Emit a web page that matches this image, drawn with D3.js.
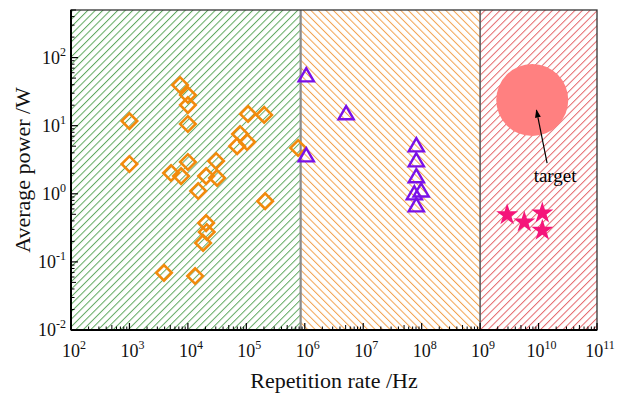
<!DOCTYPE html>
<html><head><meta charset="utf-8">
<script src="https://cdn.jsdelivr.net/npm/d3@7"></script>
<style>body{margin:0;background:#fff}svg{display:block}</style>
</head><body>
<svg id="c" width="619" height="394"></svg>
<script>
// ---- data ----
const xTickExps = [2,3,4,5,6,7,8,9,10,11];
const yTickExps = [-2,-1,0,1,2];
const regionBounds = [1e2, 8.5e5, 1e9, 1e11];
const regionNames = ["green","orange","red"];
const diamondX = [1e3,1e3,7350,1.0e4,1.0e4,1.0e4,5150,7650,1.0e4,2.05e4,3.04e4,3.16e4,1.5e4,1.07e5,2.02e5,6.96e4,7.8e4,1.03e5,7.7e5,2.1e5,2.05e4,2.1e4,1.82e4,3.9e3,1.33e4];
const diamondY = [11.7,2.74,39.6,28.2,20.1,10.6,2.02,1.82,2.93,1.82,3.03,1.71,1.10,14.9,14.4,5.0,7.55,5.76,4.7,0.78,0.372,0.275,0.19,0.069,0.062];
const triangleX = [1.06e6,5.1e6,1.06e6,8.1e7,8.1e7,8.1e7,9.8e7,7.5e7,8.1e7];
const triangleY = [51.9,14.4,3.47,4.87,2.93,1.71,1.06,0.96,0.64];
const starX = [2.9e9,5.7e9,1.16e10,1.16e10];
const starY = [0.49,0.385,0.52,0.29];
const targetX = [7.8e9];
const targetY = [23.8];
const arrowFrom = [1.4e10, 2.83];
const arrowTo = [9.2e9, 17];
const targetLabel = "target";

// ---- layout ----
const svg = d3.select("#c");
const L = 71, R = 597, T = 10, B = 330;
const x = d3.scaleLog().domain([1e2,1e11]).range([L,R]);
const y = d3.scaleLog().domain([0.01,500]).range([B,T]);
const serif = "'Liberation Serif','Times New Roman',serif";

const defs = svg.append("defs");
const hatch = {green:{c:"#5fa85f",r:45}, orange:{c:"#f2a24e",r:-45}, red:{c:"#e4676b",r:45}};
regionNames.forEach(n=>{
  const p = defs.append("pattern").attr("id","h-"+n).attr("patternUnits","userSpaceOnUse")
    .attr("width",5.3).attr("height",10).attr("patternTransform",`rotate(${hatch[n].r})`);
  p.append("line").attr("x1",0.5).attr("x2",0.5).attr("y1",0).attr("y2",10)
    .attr("stroke",hatch[n].c).attr("stroke-width",1);
});
defs.append("marker").attr("id","arr").attr("viewBox","0 0 10 10").attr("refX",9).attr("refY",5)
  .attr("markerWidth",7).attr("markerHeight",7).attr("orient","auto")
  .append("path").attr("d","M0,1.5 L10,5 L0,8.5 Z").attr("fill","#000");

// regions
svg.selectAll("rect.reg").data(regionNames).join("rect").attr("class","reg")
  .attr("x",(d,i)=>x(regionBounds[i])).attr("width",(d,i)=>x(regionBounds[i+1])-x(regionBounds[i]))
  .attr("y",T).attr("height",B-T).attr("fill",d=>`url(#h-${d})`);

// separators
svg.append("line").attr("x1",x(regionBounds[1])).attr("x2",x(regionBounds[1])).attr("y1",T).attr("y2",B)
  .attr("stroke","#8a8a8a").attr("stroke-width",2.2);
svg.append("line").attr("x1",x(regionBounds[2])).attr("x2",x(regionBounds[2])).attr("y1",T).attr("y2",B)
  .attr("stroke","#555").attr("stroke-width",1.5);

// frame
svg.append("rect").attr("x",L).attr("y",T).attr("width",R-L).attr("height",B-T)
  .attr("fill","none").attr("stroke","#333").attr("stroke-width",1.3);

// target
svg.selectAll("circle.t").data(targetX).join("circle").attr("class","t")
  .attr("cx",d=>x(d)).attr("cy",(d,i)=>y(targetY[i])).attr("r",36).attr("fill","#ff8080");

// arrow & label
svg.append("line").attr("x1",x(arrowFrom[0])).attr("y1",y(arrowFrom[1])).attr("x2",x(arrowTo[0])).attr("y2",y(arrowTo[1]))
  .attr("stroke","#000").attr("stroke-width",1.2).attr("marker-end","url(#arr)");
svg.append("text").attr("x",x(arrowFrom[0])+8).attr("y",y(arrowFrom[1])+19).attr("text-anchor","middle")
  .attr("font-family",serif).attr("font-size",19).text(targetLabel);

// diamonds
svg.selectAll("path.dm").data(diamondX).join("path").attr("class","dm")
  .attr("d",d3.symbol(d3.symbolSquare, 120)())
  .attr("transform",(d,i)=>`translate(${x(d)},${y(diamondY[i])}) rotate(45)`)
  .attr("fill","none").attr("stroke","#f28a0c").attr("stroke-width",2.6);

// triangles
svg.selectAll("path.tr").data(triangleX).join("path").attr("class","tr")
  .attr("d",d3.symbol(d3.symbolTriangle, 100)())
  .attr("transform",(d,i)=>`translate(${x(d)},${y(triangleY[i])})`)
  .attr("fill","none").attr("stroke","#7a10e8").attr("stroke-width",2.4);

// stars
svg.selectAll("path.st").data(starX).join("path").attr("class","st")
  .attr("d",d3.symbol(d3.symbolStar, 150)())
  .attr("transform",(d,i)=>`translate(${x(d)},${y(starY[i])})`)
  .attr("fill","#f5157a");

// axes ticks (inward)
const ax = svg.append("g").attr("stroke","#000");
xTickExps.forEach(e=>{
  const X = x(Math.pow(10,e));
  ax.append("line").attr("x1",X).attr("x2",X).attr("y1",B).attr("y2",B-7).attr("stroke-width",1.2);
  if(e<11) for(let k=2;k<=9;k++){ const Xm=x(k*Math.pow(10,e));
    ax.append("line").attr("x1",Xm).attr("x2",Xm).attr("y1",B).attr("y2",B-(k==5?5:3.5)).attr("stroke-width",1);}
});
yTickExps.forEach(e=>{
  const Y = y(Math.pow(10,e));
  ax.append("line").attr("x1",L).attr("x2",L+7).attr("y1",Y).attr("y2",Y).attr("stroke-width",1.2);
  for(let k=2;k<=9;k++){ const v=k*Math.pow(10,e); if(v>500) break; const Ym=y(v);
    ax.append("line").attr("x1",L).attr("x2",L+(k==5?5:3.5)).attr("y1",Ym).attr("y2",Ym).attr("stroke-width",1);}
});
svg.append("line").attr("x1",L).attr("x2",R).attr("y1",B).attr("y2",B).attr("stroke","#000").attr("stroke-width",2);
svg.append("line").attr("x1",L).attr("x2",L).attr("y1",T).attr("y2",B).attr("stroke","#000").attr("stroke-width",2);

// tick labels
xTickExps.forEach(e=>{
  const t = svg.append("text").attr("x",x(Math.pow(10,e))+3).attr("y",B+27).attr("text-anchor","middle")
    .attr("font-family",serif).attr("font-size",18).attr("fill","#111");
  t.append("tspan").text("10");
  t.append("tspan").attr("dy",-8).attr("font-size",12).text(e);
});
yTickExps.forEach(e=>{
  const t = svg.append("text").attr("x",L-5).attr("y",y(Math.pow(10,e))+6).attr("text-anchor","end")
    .attr("font-family",serif).attr("font-size",18).attr("fill","#111");
  t.append("tspan").text("10");
  t.append("tspan").attr("dy",-8).attr("font-size",12).text(e);
});

// titles
svg.append("text").attr("x",(L+R)/2).attr("y",388).attr("text-anchor","middle")
  .attr("font-family",serif).attr("font-size",22).attr("fill","#111").text("Repetition rate /Hz");
svg.append("text").attr("transform",`translate(30,${(T+B)/2}) rotate(-90)`).attr("text-anchor","middle")
  .attr("font-family",serif).attr("font-size",22).attr("fill","#111").text("Average power /W");
</script>
</body></html>
